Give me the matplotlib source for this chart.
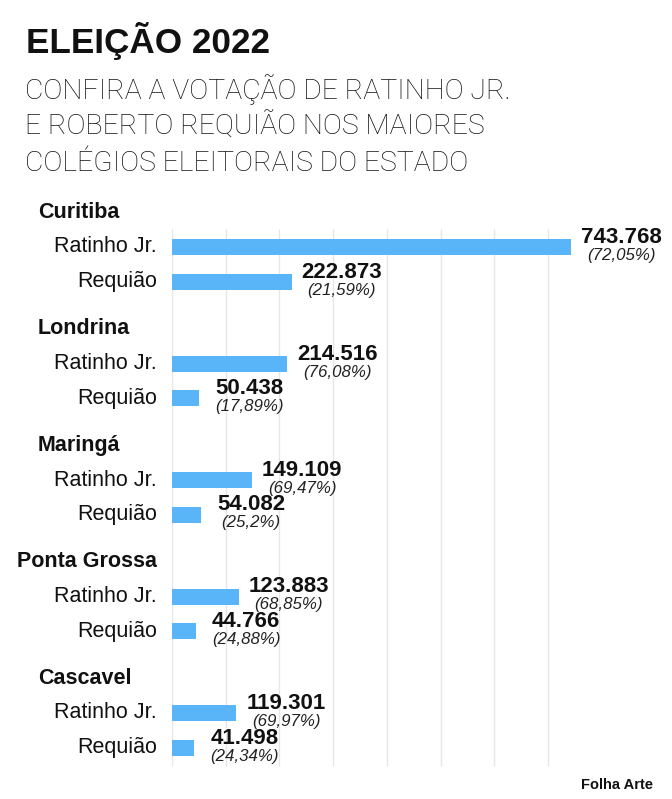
import matplotlib
matplotlib.use("Agg")
import matplotlib.pyplot as plt
from matplotlib import font_manager

# Data
cities = ["Curitiba", "Londrina", "Maringá", "Ponta Grossa", "Cascavel"]
candidates = ["Ratinho Jr.", "Requião"]
ratinho_votes = [743768, 214516, 149109, 123883, 119301]
requiao_votes = [222873, 50438, 54082, 44766, 41498]
ratinho_pct = [72.05, 76.08, 69.47, 68.85, 69.97]
requiao_pct = [21.59, 17.89, 25.2, 24.88, 24.34]
grid_ticks = [0, 100000, 200000, 300000, 400000, 500000, 600000, 700000]

title = "ELEIÇÃO 2022"
subtitle = ["CONFIRA A VOTAÇÃO DE RATINHO JR.",
            "E ROBERTO REQUIÃO NOS MAIORES",
            "COLÉGIOS ELEITORAIS DO ESTADO"]
credit = "Folha Arte"

# Fonts (no condensed DIN here, so Roboto Light stands in for the subtitle)
names = {f.name for f in font_manager.fontManager.ttflist}
SANS = "Liberation Sans" if "Liberation Sans" in names else "DejaVu Sans"
if "Liberation Sans Narrow" in names:
    NARROW, NARROW_SIZE = "Liberation Sans Narrow", 22.5
elif "Roboto" in names:
    NARROW, NARROW_SIZE = "Roboto", 20.4
else:
    NARROW, NARROW_SIZE = SANS, 18
plt.rcParams["font.family"] = [SANS, "DejaVu Sans"]

BAR_COLOR = "#5ab4f8"
TEXT = "#111111"
W, H = 672, 799

fig = plt.figure(figsize=(W / 100, H / 100), dpi=100)
fig.patch.set_facecolor("white")


def fx(px):
    return px / W


def fy(py):
    return 1 - py / H


# Header
fig.text(fx(26), fy(53), title, fontsize=25.3, fontweight="bold", color=TEXT,
         va="baseline", ha="left")
for i, line in enumerate(subtitle):
    fig.text(fx(25), fy(99 + i * 36), line, fontsize=NARROW_SIZE,
             family=[NARROW, "DejaVu Sans"], fontweight="light",
             color="#111111", va="baseline", ha="left")

# Chart area: y data in pixels from top, x in votes
ax_left, ax_top, ax_bottom = 172, 195, 775
px_per_vote = 53.7 / 100000
ax = fig.add_axes([fx(ax_left), fy(ax_bottom), fx(W - ax_left), (ax_bottom - ax_top) / H])
ax.set_xlim(0, (W - ax_left) / px_per_vote)
ax.set_ylim(ax_bottom, ax_top)
ax.axis("off")

ax.vlines(grid_ticks, 229, 766, color="#e6e6e6", lw=1, zorder=0)

# Layout of groups
first_title_y = 212
group_step = 116.5
row_gap = [35, 69.5]
bar_h = 16

renderer = fig.canvas.get_renderer()
for i, city in enumerate(cities):
    base = first_title_y + i * group_step
    # City name: left at 38px unless it would run into the bars
    t = fig.text(fx(38), fy(base), city, fontsize=15.5, fontweight="bold",
                 color=TEXT, va="center", ha="left")
    width = t.get_window_extent(renderer).width
    if 38 + width > 157:
        t.set_x(fx(157 - width))

    votes = [ratinho_votes[i], requiao_votes[i]]
    pcts = [ratinho_pct[i], requiao_pct[i]]
    for k, name in enumerate(candidates):
        yc = base + row_gap[k]
        ax.barh(yc, votes[k], height=bar_h, color=BAR_COLOR, zorder=2)
        fig.text(fx(157), fy(yc), name, fontsize=15.5, color=TEXT,
                 va="center", ha="right")
        num = f"{votes[k]:,}".replace(",", ".")
        pct = "(" + str(pcts[k]).replace(".", ",") + "%)"
        ax.annotate(num, xy=(votes[k], yc), xytext=(50, 4),
                    textcoords="offset pixels", ha="center", va="baseline",
                    fontsize=16, fontweight="bold", color=TEXT)
        ax.annotate(pct, xy=(votes[k], yc), xytext=(50, -13),
                    textcoords="offset pixels", ha="center", va="baseline",
                    fontsize=12.2, fontstyle="italic", color="#222222")

fig.text(fx(653), fy(789), credit, fontsize=10.5, fontweight="bold",
         color=TEXT, ha="right", va="baseline")

fig.savefig("out.png", dpi=100, facecolor="white")
